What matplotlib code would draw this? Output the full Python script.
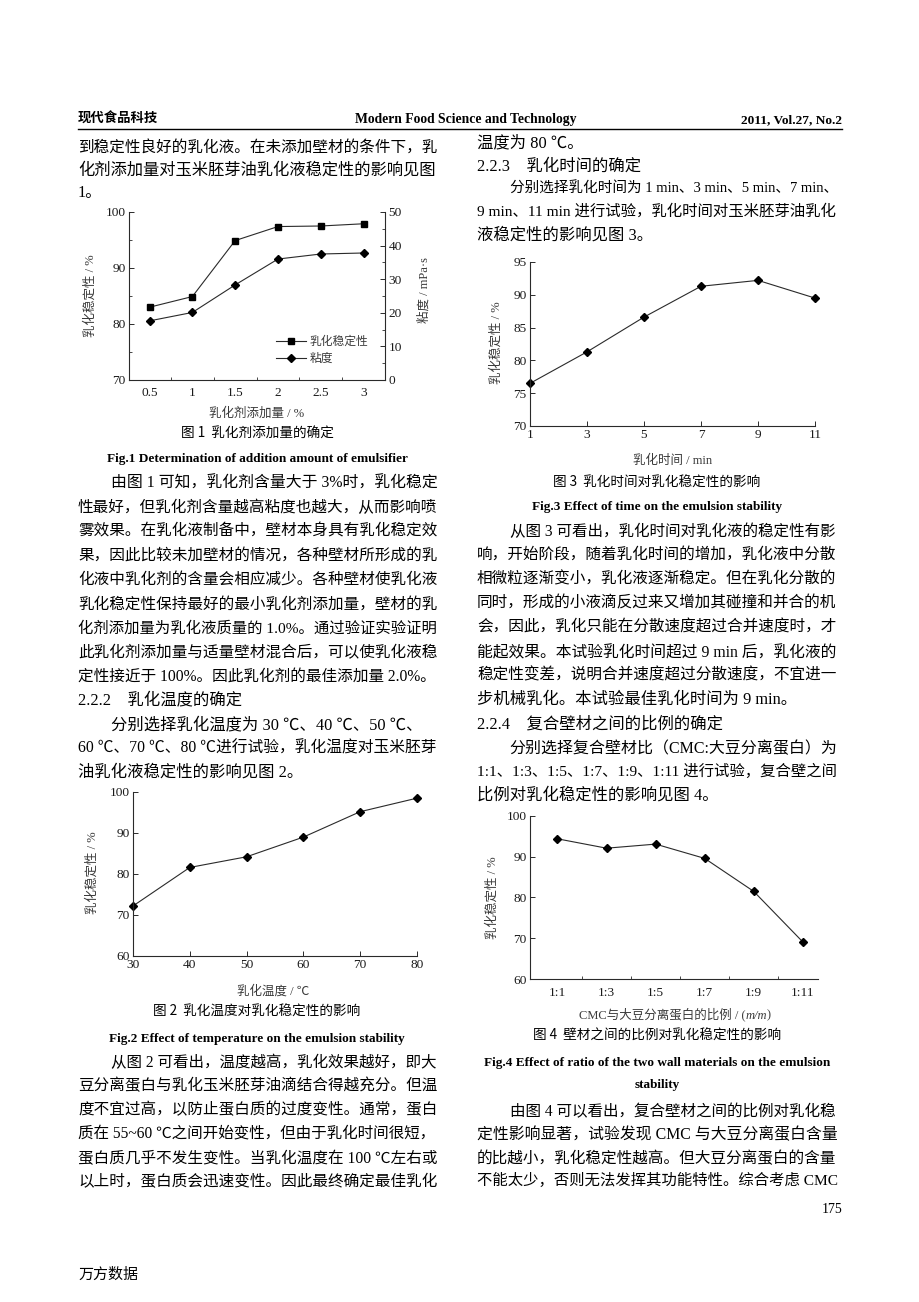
import matplotlib
matplotlib.use('Agg')
import matplotlib.pyplot as plt
from matplotlib.ticker import MultipleLocator, FixedLocator

# ---------------- data ----------------
emulsifier_pct = [0.5, 1, 1.5, 2, 2.5, 3]
stability_fig1 = [83.0, 84.9, 94.9, 97.4, 97.5, 97.9]
viscosity_fig1 = [17.6, 20.1, 28.3, 36.0, 37.5, 37.8]
fig1_xticklabels = ['0.5', '1', '1.5', '2', '2.5', '3']

temperature_c = [30, 40, 50, 60, 70, 80]
stability_fig2 = [72.2, 81.6, 84.2, 89.0, 95.2, 98.5]

time_min = [1, 3, 5, 7, 9, 11]
stability_fig3 = [76.5, 81.3, 86.6, 91.3, 92.2, 89.5]

ratio_labels = ['1:1', '1:3', '1:5', '1:7', '1:9', '1:11']
stability_fig4 = [94.4, 92.1, 93.1, 89.6, 81.5, 69.1]

# ---------------- text ----------------
header_left = '现代食品科技'
header_mid = 'Modern Food Science and Technology'
header_right = '2011, Vol.27, No.2'

left_top = [('到稳定性良好的乳化液。在未添加壁材的条件下，乳', False),
            ('化剂添加量对玉米胚芽油乳化液稳定性的影响见图', False),
            ('1。', False)]
left_mid = [('由图 1 可知，乳化剂含量大于 3%时，乳化稳定', True),
            ('性最好，但乳化剂含量越高粘度也越大，从而影响喷', False),
            ('雾效果。在乳化液制备中，壁材本身具有乳化稳定效', False),
            ('果，因此比较未加壁材的情况，各种壁材所形成的乳', False),
            ('化液中乳化剂的含量会相应减少。各种壁材使乳化液', False),
            ('乳化稳定性保持最好的最小乳化剂添加量，壁材的乳', False),
            ('化剂添加量为乳化液质量的 1.0%。通过验证实验证明', False),
            ('此乳化剂添加量与适量壁材混合后，可以使乳化液稳', False),
            ('定性接近于 100%。因此乳化剂的最佳添加量 2.0%。', False),
            ('2.2.2    乳化温度的确定', False),
            ('分别选择乳化温度为 30 ℃、40 ℃、50 ℃、', True),
            ('60 ℃、70 ℃、80 ℃进行试验，乳化温度对玉米胚芽', False),
            ('油乳化液稳定性的影响见图 2。', False)]
left_bot = [('从图 2 可看出，温度越高，乳化效果越好，即大', True),
            ('豆分离蛋白与乳化玉米胚芽油滴结合得越充分。但温', False),
            ('度不宜过高，以防止蛋白质的过度变性。通常，蛋白', False),
            ('质在 55~60 ℃之间开始变性，但由于乳化时间很短，', False),
            ('蛋白质几乎不发生变性。当乳化温度在 100 ℃左右或', False),
            ('以上时，蛋白质会迅速变性。因此最终确定最佳乳化', False)]

right_top = [('温度为 80 ℃。', False),
             ('2.2.3    乳化时间的确定', False),
             ('分别选择乳化时间为 1 min、3 min、5 min、7 min、', True),
             ('9 min、11 min 进行试验，乳化时间对玉米胚芽油乳化', False),
             ('液稳定性的影响见图 3。', False)]
right_mid = [('从图 3 可看出，乳化时间对乳化液的稳定性有影', True),
             ('响，开始阶段，随着乳化时间的增加，乳化液中分散', False),
             ('相微粒逐渐变小，乳化液逐渐稳定。但在乳化分散的', False),
             ('同时，形成的小液滴反过来又增加其碰撞和并合的机', False),
             ('会，因此，乳化只能在分散速度超过合并速度时，才', False),
             ('能起效果。本试验乳化时间超过 9 min 后，乳化液的', False),
             ('稳定性变差，说明合并速度超过分散速度，不宜进一', False),
             ('步机械乳化。本试验最佳乳化时间为 9 min。', False),
             ('2.2.4    复合壁材之间的比例的确定', False),
             ('分别选择复合壁材比（CMC:大豆分离蛋白）为', True),
             ('1:1、1:3、1:5、1:7、1:9、1:11 进行试验，复合壁之间', False),
             ('比例对乳化稳定性的影响见图 4。', False)]
right_bot = [('由图 4 可以看出，复合壁材之间的比例对乳化稳', True),
             ('定性影响显著，试验发现 CMC 与大豆分离蛋白含量', False),
             ('的比越小，乳化稳定性越高。但大豆分离蛋白的含量', False),
             ('不能太少，否则无法发挥其功能特性。综合考虑 CMC', False)]

# ---------------- setup ----------------
SERIF = ['Liberation Serif', 'Noto Sans CJK SC']
HEI = ['Noto Sans CJK SC', 'Liberation Serif']
plt.rcParams['font.family'] = SERIF
plt.rcParams['axes.unicode_minus'] = False

W, H = 920, 1302
fig = plt.figure(figsize=(9.2, 13.02), dpi=100)
fig.patch.set_facecolor('white')
renderer = fig.canvas.get_renderer()


def fx(x):
    return x / W


def fy(y):
    return 1 - y / H


def put(x, y, s, size=11.75, ha='left', family=SERIF, weight='normal',
        color='black', rotation=0, style='normal'):
    if rotation == 0:
        yb = y + 0.38 * size * 100 / 72
        return fig.text(fx(x), fy(yb), s, ha=ha, va='baseline', fontsize=size,
                        family=family, weight=weight, color=color, style=style)
    return fig.text(fx(x), fy(y), s, ha='center', va='center', fontsize=size,
                    family=family, weight=weight, color=color, rotation=rotation)


BODY = 11.75
EM = BODY * 100 / 72

# header
put(78, 118, header_left, size=9.6, family=HEI, weight='bold')
put(466, 118, header_mid, size=9.8, ha='center', weight='bold')
put(842, 118, header_right, size=9.6, ha='right', weight='bold')
fig.add_artist(plt.Line2D([fx(78), fx(842)], [fy(129), fy(129)], color='black', lw=1.0))


def column(lines, x0, x1, ys):
    """Body lines; lines too long for the column are condensed to fit."""
    for (s, indent), y in zip(lines, ys):
        xs = x0 + (2 * EM if indent else 0)
        t = put(xs, y, s)
        w = t.get_window_extent(renderer).width
        avail = x1 - xs
        if w > avail:
            t.remove()
            put(xs, y, s, size=BODY * avail / w)


# left column
column(left_top, 78, 438, [146, 168, 191])
column(left_mid, 78, 438, [482, 506, 530, 554, 578, 603, 627, 651, 675, 698, 723, 747, 770])
column(left_bot, 78, 438, [1061, 1084, 1108, 1132, 1157, 1180])

# right column
column(right_top, 477, 838, [141, 164, 187, 210, 233])
column(right_mid, 477, 838, [530, 553, 578, 602, 626, 651, 674, 698, 722, 747, 770, 793])
column(right_bot, 477, 838, [1110, 1133, 1157, 1179])

# captions
CAP = 9.8
FIGCAP = 9.5
put(257, 433, '图 1  乳化剂添加量的确定', size=CAP, ha='center', family=HEI)
put(257, 457, 'Fig.1 Determination of addition amount of emulsifier', size=FIGCAP, ha='center', weight='bold')
put(257, 1011, '图 2  乳化温度对乳化稳定性的影响', size=CAP, ha='center', family=HEI)
put(257, 1037, 'Fig.2 Effect of temperature on the emulsion stability', size=FIGCAP, ha='center', weight='bold')
put(657, 482, '图 3  乳化时间对乳化稳定性的影响', size=CAP, ha='center', family=HEI)
put(657, 505, 'Fig.3 Effect of time on the emulsion stability', size=FIGCAP, ha='center', weight='bold')
put(657, 1035, '图 4  壁材之间的比例对乳化稳定性的影响', size=CAP, ha='center', family=HEI)
put(657, 1061, 'Fig.4 Effect of ratio of the two wall materials on the emulsion', size=FIGCAP, ha='center', weight='bold')
put(657, 1083, 'stability', size=FIGCAP, ha='center', weight='bold')

# footer
put(842, 1208, '175', size=10, ha='right')
put(78, 1273, '万方数据', size=10.8)

# ---------------- charts ----------------
LC = '#2a2a2a'
LAB = '#3a3a3a'
TICK = 9.6


def add_ax(l, t, r, b):
    return fig.add_axes([fx(l), fy(b), (r - l) / W, (b - t) / H])


def style(ax, right=False):
    ax.set_facecolor('none')
    ax.spines['top'].set_visible(False)
    if not right:
        ax.spines['right'].set_visible(False)
    for sp in ax.spines.values():
        sp.set_linewidth(0.8)
        sp.set_color(LC)
    ax.tick_params(which='major', direction='in', length=3.5, width=0.7,
                   labelsize=TICK, pad=2.5, color=LC, labelcolor='#1a1a1a')
    ax.tick_params(which='minor', direction='in', length=2, width=0.6, color=LC)


# Figure 1
ax1 = add_ax(129, 212, 385, 380)
style(ax1)
ax1.set_xlim(0.26, 3.25)
ax1.set_ylim(70, 100)
ax1.yaxis.set_major_locator(MultipleLocator(10))
ax1.yaxis.set_minor_locator(MultipleLocator(5))
ax1.set_xticks(emulsifier_pct)
ax1.set_xticklabels(fig1_xticklabels)
ax1.tick_params(axis='x', which='major', length=0, pad=5)
ax1.xaxis.set_minor_locator(FixedLocator([0.75, 1.25, 1.75, 2.25, 2.75]))
l1, = ax1.plot(emulsifier_pct, stability_fig1, color=LC, lw=0.8, marker='s',
               ms=4.8, mfc='black', mec='black', label='乳化稳定性')
ax1b = ax1.twinx()
ax1b.set_position(ax1.get_position())
style(ax1b, right=True)
ax1b.spines['left'].set_visible(False)
ax1b.spines['bottom'].set_visible(False)
ax1b.set_ylim(0, 50)
ax1b.yaxis.set_major_locator(MultipleLocator(10))
ax1b.yaxis.set_minor_locator(MultipleLocator(5))
l2, = ax1b.plot(emulsifier_pct, viscosity_fig1, color=LC, lw=0.8, marker='D',
                ms=4.5, mfc='black', mec='black', label='粘度')
leg = ax1b.legend(handles=[l1, l2], loc='upper left', bbox_to_anchor=(0.575, 0.27),
                  frameon=False, fontsize=8.5, handlelength=2.5, handletextpad=0.3,
                  labelspacing=0.35, borderpad=0, borderaxespad=0)
for t in leg.get_texts():
    t.set_family(HEI)
    t.set_color(LAB)
put(91, 296, '乳化稳定性 / %', size=9, color=LAB, rotation=90)
put(424, 290, '粘度 / mPa·s', size=9, color=LAB, rotation=90)
put(257, 412, '乳化剂添加量 / %', size=9, ha='center', color=LAB)

# Figure 2
ax2 = add_ax(133, 792, 417, 956)
style(ax2)
ax2.set_xlim(30, 80)
ax2.set_ylim(60, 100)
ax2.set_xticks(temperature_c)
ax2.yaxis.set_major_locator(MultipleLocator(10))
ax2.plot(temperature_c, stability_fig2, color=LC, lw=0.8, marker='D', ms=4.5,
         mfc='black', mec='black', clip_on=False)
put(93, 873, '乳化稳定性 / %', size=9, color=LAB, rotation=90)
put(273, 990, '乳化温度 / ℃', size=9, ha='center', color=LAB)

# Figure 3
ax3 = add_ax(530, 262, 815, 426)
style(ax3)
ax3.set_xlim(1, 11)
ax3.set_ylim(70, 95)
ax3.set_xticks(time_min)
ax3.yaxis.set_major_locator(MultipleLocator(5))
ax3.plot(time_min, stability_fig3, color=LC, lw=0.8, marker='D', ms=4.5,
         mfc='black', mec='black', clip_on=False)
put(497, 343, '乳化稳定性 / %', size=9, color=LAB, rotation=90)
put(673, 459, '乳化时间 / min', size=9, ha='center', color=LAB)

# Figure 4
ax4 = add_ax(530, 816, 818, 979)
style(ax4)
idx = list(range(len(ratio_labels)))
ax4.set_xlim(-0.56, 5.31)
ax4.set_ylim(60, 100)
ax4.set_xticks(idx)
ax4.set_xticklabels(ratio_labels)
ax4.tick_params(axis='x', which='major', length=0, pad=6)
ax4.xaxis.set_minor_locator(FixedLocator([i + 0.5 for i in idx[:-1]]))
ax4.yaxis.set_major_locator(MultipleLocator(10))
ax4.plot(idx, stability_fig4, color=LC, lw=0.8, marker='D', ms=4.5,
         mfc='black', mec='black', clip_on=False)
put(493, 898, '乳化稳定性 / %', size=9, color=LAB, rotation=90)

# x label with italic m/m
parts = [('CMC与大豆分离蛋白的比例 / (', 'normal'), ('m/m', 'italic'), (')', 'normal')]
objs = [put(0, 1014, s, size=9, color=LAB, style=st) for s, st in parts]
widths = [o.get_window_extent(renderer).width for o in objs]
xcur = 675 - sum(widths) / 2
for o, w in zip(objs, widths):
    o.set_x(fx(xcur))
    xcur += w

fig.savefig('out.png', dpi=100, facecolor='white')
